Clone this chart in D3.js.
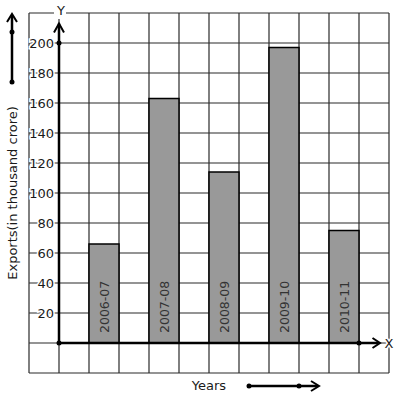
<!DOCTYPE html>
<html>
<head>
<meta charset="utf-8">
<script src="https://cdn.jsdelivr.net/npm/d3@7"></script>
<style>
  body { margin: 0; background: #fff; }
  svg { display: block; }
  text { font-family: "DejaVu Sans", sans-serif; fill: #1a1a1a; }
</style>
</head>
<body>
<svg id="chart" width="397" height="399"></svg>
<script>
// données
const years = ["2006-07", "2007-08", "2008-09", "2009-10", "2010-11"];
const exports = [66, 163, 114, 197, 75];
const yTicks = [20, 40, 60, 80, 100, 120, 140, 160, 180, 200];

const svg = d3.select("#chart");

// une case de grille = 30px, 20 unités en y
const x = d3.scaleLinear().domain([-1, 11]).range([29, 389]);
const y = d3.scaleLinear().domain([-20, 220]).range([373, 13]);

// quadrillage
const grid = svg.append("g").attr("stroke", "#2a2a2a").attr("stroke-width", 1.2);
grid.selectAll("line.v")
    .data(d3.range(-1, 12))
    .enter().append("line")
    .attr("x1", d => x(d)).attr("x2", d => x(d))
    .attr("y1", y(220)).attr("y2", y(-20));
grid.selectAll("line.h")
    .data(d3.range(-20, 240, 20))
    .enter().append("line")
    .attr("x1", x(-1)).attr("x2", x(11))
    .attr("y1", d => y(d)).attr("y2", d => y(d));

// barres
svg.selectAll("rect.bar")
    .data(years)
    .enter().append("rect")
    .attr("class", "bar")
    .attr("x", (d, i) => x(i * 2 + 1))
    .attr("width", x(1) - x(0))
    .attr("y", (d, i) => y(exports[i]))
    .attr("height", (d, i) => y(0) - y(exports[i]))
    .attr("fill", "#999999")
    .attr("stroke", "#000")
    .attr("stroke-width", 1.5);

// étiquettes des barres (verticales)
svg.selectAll("text.year")
    .data(years)
    .enter().append("text")
    .attr("transform", (d, i) => `translate(${(x(i * 2 + 1) + x(i * 2 + 2)) / 2 + 4.5},${y(0) - 10}) rotate(-90)`)
    .style("font-size", "12.5px")
    .style("fill", "#333")
    .text(d => d);

// axes
svg.append("line")
    .attr("x1", x(0)).attr("x2", x(0))
    .attr("y1", y(0)).attr("y2", y(213))
    .attr("stroke", "#000").attr("stroke-width", 2.5);
svg.append("path")
    .attr("d", `M${x(0) - 5},${y(207)} L${x(0)},${y(213)} L${x(0) + 5},${y(207)}`)
    .attr("fill", "none").attr("stroke", "#000").attr("stroke-width", 2);
svg.append("line")
    .attr("x1", x(0)).attr("x2", x(10.65))
    .attr("y1", y(0)).attr("y2", y(0))
    .attr("stroke", "#000").attr("stroke-width", 2.5);
svg.append("path")
    .attr("d", `M${x(10.45)},${y(0) - 5} L${x(10.7)},${y(0)} L${x(10.45)},${y(0) + 5}`)
    .attr("fill", "none").attr("stroke", "#000").attr("stroke-width", 2);
svg.selectAll("circle.pt")
    .data([[0, 0], [0, 200], [10, 0]])
    .enter().append("circle")
    .attr("cx", d => x(d[0])).attr("cy", d => y(d[1]))
    .attr("r", 2.5).attr("fill", "#000");

// graduations de l'axe y
svg.selectAll("text.tick")
    .data(yTicks)
    .enter().append("text")
    .attr("x", x(0) - 5)
    .attr("y", d => y(d))
    .attr("dy", "0.36em")
    .attr("text-anchor", "end")
    .style("font-size", "13px")
    .style("paint-order", "stroke")
    .style("stroke", "#fff")
    .style("stroke-width", 3)
    .text(d => d);

// lettres X et Y
svg.append("rect").attr("x", x(0) - 5).attr("y", 5).attr("width", 12).attr("height", 14).attr("fill", "#fff");
svg.append("text").attr("x", x(0) + 2).attr("y", 15)
    .attr("text-anchor", "middle").style("font-size", "13px").text("Y");
svg.append("text").attr("x", x(10.85)).attr("y", y(0)).attr("dy", "0.36em")
    .style("font-size", "13px")
    .style("paint-order", "stroke").style("stroke", "#fff").style("stroke-width", 3)
    .text("X");

// titre vertical et sa flèche
svg.append("text")
    .attr("transform", `translate(17,${y(100)}) rotate(-90)`)
    .attr("text-anchor", "middle")
    .style("font-size", "13px")
    .text("Exports(in thousand crore)");
svg.append("line").attr("x1", 12).attr("x2", 12).attr("y1", 82).attr("y2", 15)
    .attr("stroke", "#000").attr("stroke-width", 2.5);
svg.append("path").attr("d", "M7,22 L12,14 L17,22")
    .attr("fill", "none").attr("stroke", "#000").attr("stroke-width", 2);
svg.selectAll("circle.l").data([32, 82]).enter().append("circle")
    .attr("cx", 12).attr("cy", d => d).attr("r", 2.5).attr("fill", "#000");

// titre horizontal et sa flèche
svg.append("text").attr("x", 209).attr("y", 390)
    .attr("text-anchor", "middle").style("font-size", "13px").text("Years");
svg.append("line").attr("x1", 249).attr("x2", 318).attr("y1", 386).attr("y2", 386)
    .attr("stroke", "#000").attr("stroke-width", 2.5);
svg.append("path").attr("d", "M311,381 L319,386 L311,391")
    .attr("fill", "none").attr("stroke", "#000").attr("stroke-width", 2);
svg.selectAll("circle.b").data([249, 299]).enter().append("circle")
    .attr("cx", d => d).attr("cy", 386).attr("r", 2.5).attr("fill", "#000");
</script>
</body>
</html>
